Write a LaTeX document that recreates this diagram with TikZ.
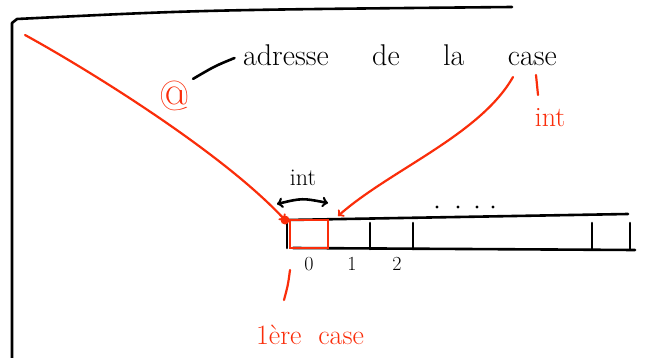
\documentclass[tikz,border=0pt]{standalone}
\usepackage{tikz}
\usetikzlibrary{arrows,positioning}
\definecolor{penred}{RGB}{250,45,10}
\tikzset{
  ink/.style={line width=2.6pt, line cap=round, line join=round},
  redink/.style={ink, penred, line width=2.2pt},
  bigtext/.style={font=\fontsize{30}{34}\selectfont, inner sep=1pt},
  smalltext/.style={font=\fontsize{20}{24}\selectfont, inner sep=1pt},
}

\begin{document}
\begin{tikzpicture}[x=1pt,y=-1pt]
	\useasboundingbox (0,0) rectangle (647,358);

	% Frame
	\draw[ink] (12,358) -- (12,23) -- (17,19) .. controls (200,10) .. (512,7);

	% Array
	\draw[ink] (287,221) -- (287,248);
	\draw[ink] (287,220) -- (628,214);
	\draw[ink] (293,248) -- (635,250);
	\foreach \x in {370,413,592,630}
	\draw[ink] (\x,223) -- (\x,249);

	% First cell
	\node[draw=penred, line width=2pt, minimum width=38pt, minimum height=28pt, inner sep=0pt] (cell0) at (309,234) {};
	\coordinate (dot) at (285,220);
	\coordinate (cell1) at (338,216);
	\fill[penred] (dot) circle (4.5pt);

	% Indices
	\foreach \i/\x in {0/309,1/352,2/397}
	\node[smalltext] (idx\i) at (\x,264) {\i};

	% Dots
	\foreach \x in {437,458,477,493}
	\fill (\x,207) circle (1.6pt);

	% Size of one cell
	\node[smalltext, font=\fontsize{24}{28}\selectfont] (size) at (303,178) {int};
	\draw[ink, <->, >=to] (277,204) .. controls (302,198) .. (328,203);

	% Labels
	\node[bigtext] (adr) at (400,55) {adresse\hskip1.45em de\hskip1.45em la\hskip1.45em case};
	\node[bigtext, penred, font=\fontsize{42}{46}\selectfont] (at) at (175,96) {@};
	\node[smalltext, penred, font=\fontsize{28}{32}\selectfont] (redsize) at (550,118) {int};
	\node[font=\fontsize{28}{32}\selectfont, inner sep=1pt, penred] (first) at (310,335) {1ère\hskip0.6em case};

	% Pointers
	\coordinate (start) at (25,35);
	\draw[redink, -to] (start) .. controls (80,65) and (220,150) .. (dot);
	\draw[ink, shorten <=2pt, shorten >=8pt] (at.north east) .. controls (215,66) .. (adr.west);
	\coordinate (caseend) at (513,77);
	\draw[redink, -to] (caseend) .. controls (480,135) and (390,170) .. (cell1);
	\draw[redink] (536,75) -- (538,95);
	\draw[redink] (290,270) .. controls (288,285) .. (284,300);
\end{tikzpicture}
\end{document}
